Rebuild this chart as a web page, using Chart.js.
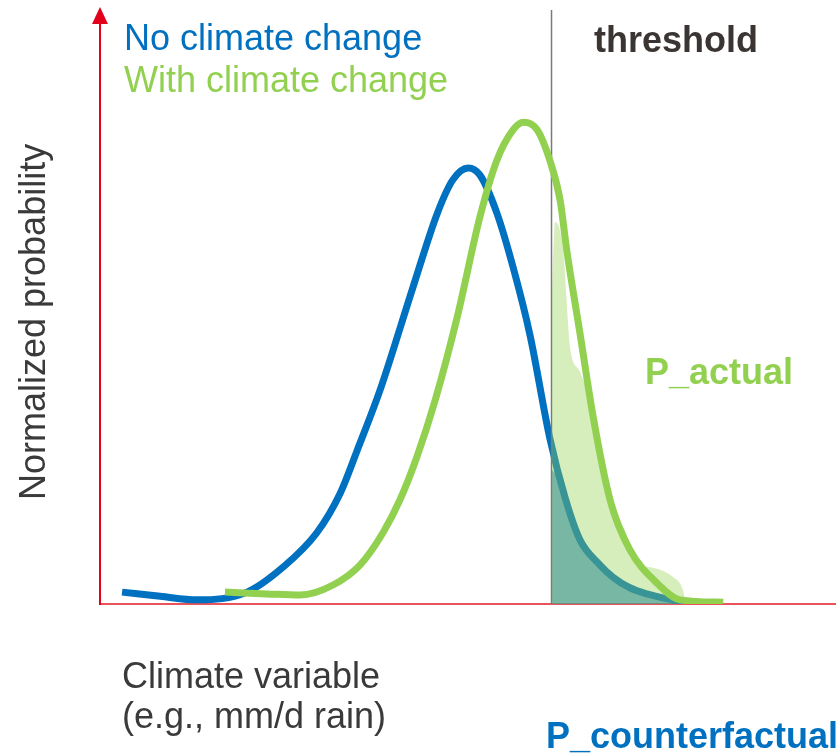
<!DOCTYPE html>
<html lang="en">
<head>
    <meta charset="UTF-8">
    <title>Climate attribution</title>
    <script src="https://cdn.jsdelivr.net/npm/chart.js"></script>
    <style>
        body { margin: 0; background: #fff; }
        .wrap { position: relative; width: 840px; height: 754px; }
        .wrap canvas { position: absolute; left: 0; top: 0; }
        .lbl {
            position: absolute; white-space: nowrap;
            font-family: "Liberation Sans", Arial, sans-serif;
            font-size: 36px; line-height: 36px;
        }
        .bold { font-weight: bold; }
    </style>
</head>
<body>
<div class="wrap">
    <canvas id="chart" width="840" height="754"></canvas>
    <div class="lbl" style="left:124px; top:19.5px; color:#0070C0">No climate change</div>
    <div class="lbl" style="left:124px; top:61.5px; color:#92D050">With climate change</div>
    <div class="lbl bold" style="left:594px; top:21.5px; color:#3a3532">threshold</div>
    <div class="lbl bold" style="left:645px; top:353.5px; color:#92D050">P_actual</div>
    <div class="lbl bold" style="left:546px; top:717.5px; color:#0070C0">P_counterfactual</div>
    <div class="lbl" style="left:122px; top:657.5px; color:#3a3a3a">Climate variable</div>
    <div class="lbl" style="left:122px; top:697.5px; color:#3a3a3a">(e.g., mm/d rain)</div>
    <div class="lbl" style="left:14.5px; top:500px; color:#3a3a3a; transform-origin:0 0; transform:rotate(-90deg)">Normalized probability</div>
</div>
<script>
    // curve without climate change
    const blueX = [3.0, 8.2, 13.2, 20.0, 24.9, 29.5, 32.7, 35.0, 38.1, 42.6, 45.9, 48.0, 50.1, 51.7, 54.0, 56.2, 58.5, 61.2, 63.3, 65.3, 68.0, 69.8, 72.1, 74.4, 78.9, 83.0]
    const blueY = [0.020, 0.013, 0.007, 0.020, 0.062, 0.120, 0.187, 0.259, 0.360, 0.534, 0.658, 0.714, 0.734, 0.722, 0.658, 0.567, 0.453, 0.279, 0.178, 0.108, 0.066, 0.045, 0.027, 0.017, 0.005, 0.002]
    // curve with climate change
    const greenX = [17.0, 22.7, 27.2, 31.7, 35.4, 38.5, 40.8, 43.1, 45.6, 48.6, 51.7, 54.0, 56.2, 57.6, 59.5, 61.2, 62.6, 63.5, 65.3, 67.1, 69.4, 72.1, 75.8, 78.9, 84.8]
    const greenY = [0.020, 0.017, 0.015, 0.032, 0.066, 0.120, 0.175, 0.247, 0.343, 0.483, 0.652, 0.747, 0.798, 0.811, 0.798, 0.747, 0.680, 0.596, 0.456, 0.315, 0.175, 0.091, 0.035, 0.007, 0.003]
    // shaded exceedance areas
    const actualX = [61.5, 61.9, 63.0, 64.0, 65.3, 67.6, 68.4, 70.3, 71.8, 72.1, 74.8, 78.0, 79.3, 79.7]
    const actualY = [0.529, 0.643, 0.596, 0.428, 0.391, 0.288, 0.204, 0.141, 0.108, 0.079, 0.062, 0.045, 0.024, 0]
    const counterX = [61.5, 62.3, 63.3, 65.3, 68.0, 70.1, 72.5, 74.8, 77.6, 80.3, 81.6]
    const counterY = [0.226, 0.212, 0.175, 0.108, 0.064, 0.045, 0.032, 0.019, 0.010, 0.003, 0]
    const threshold = 61.43

    const pts = (xs, ys) => xs.map((x, i) => ({x: x, y: ys[i]}))

    const arrowPlugin = {
        id: 'arrow',
        afterDraw(chart) {
            const ctx = chart.ctx
            const x = chart.scales.x.getPixelForValue(0)
            const top = chart.chartArea.top
            ctx.save()
            ctx.fillStyle = '#E3001B'
            ctx.beginPath()
            ctx.moveTo(x, top - 3)
            ctx.lineTo(x - 8, top + 14)
            ctx.lineTo(x + 8, top + 14)
            ctx.closePath()
            ctx.fill()
            ctx.restore()
        }
    }

    const config = {
        type: 'scatter',
        data: {
            datasets: [
                {
                    label: 'With climate change',
                    data: pts(greenX, greenY),
                    showLine: true,
                    borderColor: '#92D050',
                    borderWidth: 7,
                    pointRadius: 0,
                    cubicInterpolationMode: 'monotone',
                    fill: false,
                    order: 0
                },
                {
                    label: 'P_actual',
                    data: pts(actualX, actualY),
                    showLine: true,
                    borderWidth: 0,
                    borderColor: 'rgba(0,0,0,0)',
                    backgroundColor: 'rgba(146,208,80,0.38)',
                    pointRadius: 0,
                    cubicInterpolationMode: 'monotone',
                    fill: 'origin',
                    order: 1
                },
                {
                    label: 'threshold',
                    data: [{x: threshold, y: 0}, {x: threshold, y: 1}],
                    showLine: true,
                    borderColor: '#7a7a7a',
                    borderWidth: 1.5,
                    pointRadius: 0,
                    fill: false,
                    order: 2
                },
                {
                    label: 'No climate change',
                    data: pts(blueX, blueY),
                    showLine: true,
                    borderColor: '#0070C0',
                    borderWidth: 7,
                    pointRadius: 0,
                    cubicInterpolationMode: 'monotone',
                    fill: false,
                    order: 3
                },
                {
                    label: 'P_counterfactual',
                    data: pts(counterX, counterY),
                    showLine: true,
                    borderWidth: 0,
                    borderColor: 'rgba(0,0,0,0)',
                    backgroundColor: 'rgba(0,112,192,0.6)',
                    pointRadius: 0,
                    cubicInterpolationMode: 'monotone',
                    fill: 'origin',
                    order: 4
                }
            ]
        },
        options: {
            responsive: false,
            animation: false,
            layout: {padding: {left: 100, top: 10, right: 5, bottom: 150}},
            plugins: {
                legend: {display: false},
                tooltip: {enabled: false}
            },
            scales: {
                x: {
                    type: 'linear',
                    min: 0,
                    max: 100,
                    z: 1,
                    ticks: {display: false},
                    grid: {display: false},
                    border: {display: true, color: '#E8535C', width: 2},
                    afterFit: s => { s.height = 0 }
                },
                y: {
                    type: 'linear',
                    min: 0,
                    max: 1,
                    z: 1,
                    ticks: {display: false},
                    grid: {display: false},
                    border: {display: true, color: '#E3001B', width: 2},
                    afterFit: s => { s.width = 0 }
                }
            }
        },
        plugins: [arrowPlugin]
    }
    const chart = new Chart(document.getElementById('chart'), config)
</script>
</body>
</html>
